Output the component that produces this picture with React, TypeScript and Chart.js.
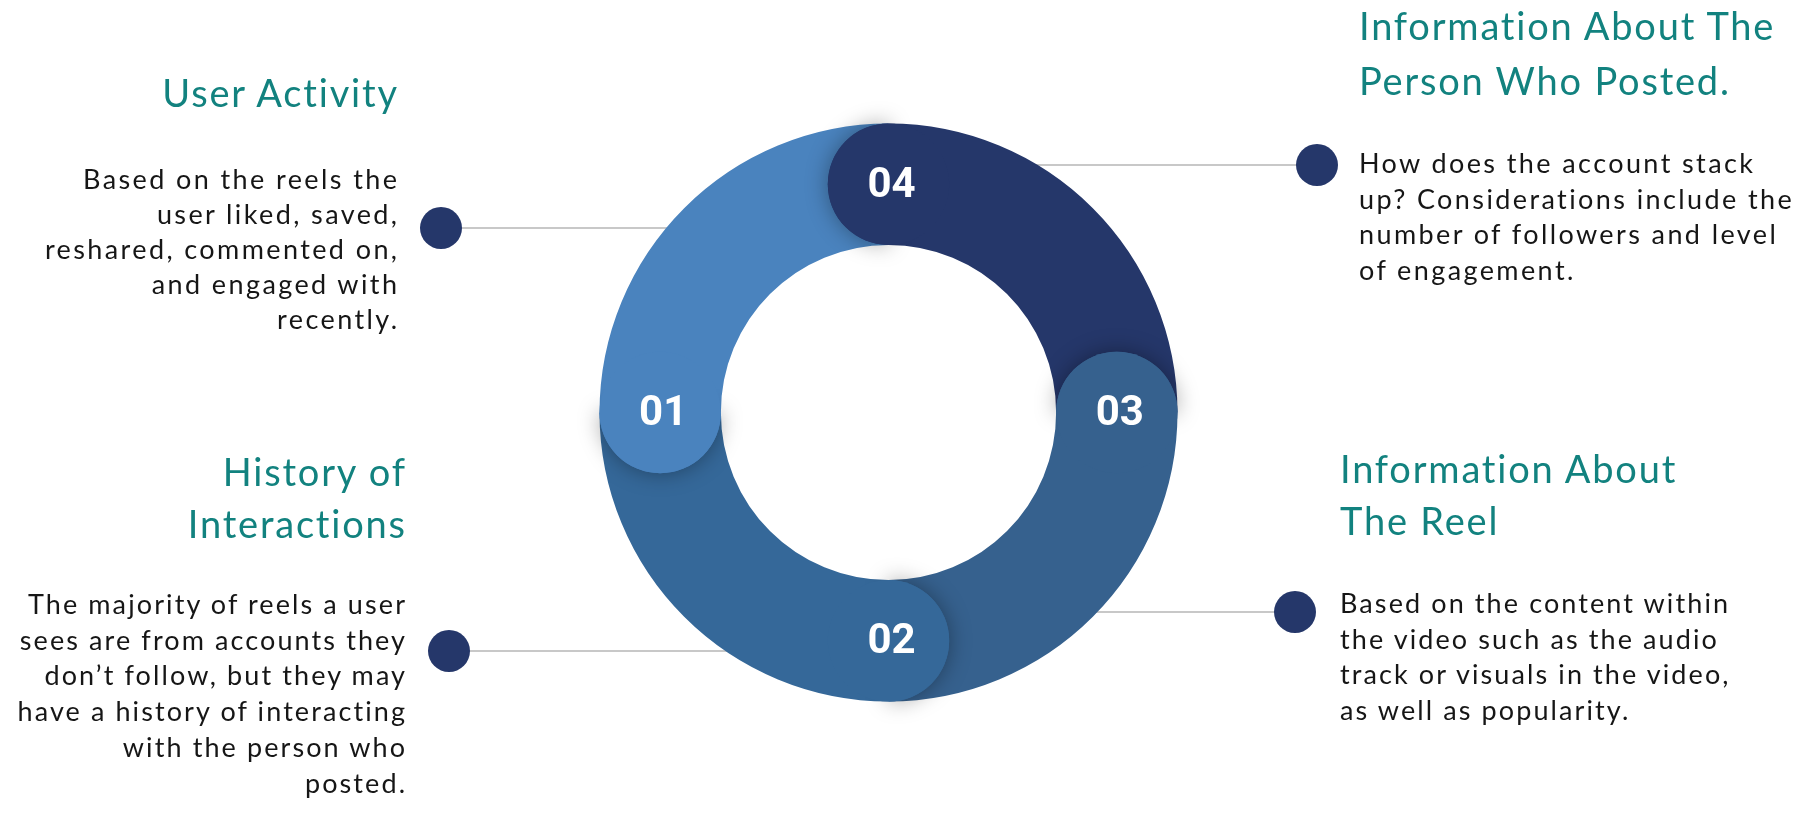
import React, { useEffect, useRef } from "react";
import { Chart, registerables } from "chart.js";

Chart.register(...registerables);

// Segments, listed clockwise starting at 9 o'clock
const segmentLabels = ["01", "04", "03", "02"];
const segmentValues = [25, 25, 25, 25];
const segmentColors = ["#4A83BE", "#25376A", "#36618E", "#356899"];

const userActivityTitle = ["User Activity"];
const userActivityText = [
  "Based on the reels the",
  "user liked, saved,",
  "reshared, commented on,",
  "and engaged with",
  "recently.",
];
const historyTitle = ["History of", "Interactions"];
const historyText = [
  "The majority of reels a user",
  "sees are from accounts they",
  "don\u2019t follow, but they may",
  "have a history of interacting",
  "with the person who",
  "posted.",
];
const personTitle = ["Information About The", "Person Who Posted."];
const personText = [
  "How does the account stack",
  "up? Considerations include the",
  "number of followers and level",
  "of engagement.",
];
const reelTitle = ["Information About", "The Reel"];
const reelText = [
  "Based on the content within",
  "the video such as the audio",
  "track or visuals in the video,",
  "as well as popularity.",
];

const W = 1806;
const H = 814;
const TEAL = "#12827F";
const NAVY = "#25376A";
const TEXT = "#161616";
const FONT = "Lato, 'Open Sans', sans-serif";

// connector dots (layout)
const dots = [
  { x: 441, y: 228 },
  { x: 449, y: 651 },
  { x: 1317, y: 165 },
  { x: 1295, y: 612 },
];

type BlockProps = {
  lines: string[];
  top: number;
  edge: number;
  align: "left" | "right";
  size: number;
  lh: number;
  color: string;
  ls: number;
};

function Block({ lines, top, edge, align, size, lh, color, ls }: BlockProps) {
  const style: React.CSSProperties = {
    position: "absolute",
    top,
    fontFamily: FONT,
    fontSize: size,
    lineHeight: lh + "px",
    color,
    letterSpacing: ls + "px",
    whiteSpace: "pre",
    textAlign: align,
  };
  if (align === "right") style.right = W - edge - ls;
  else style.left = edge;
  return (
    <div style={style}>
      {lines.map((l, i) => (
        <div key={i}>{l}</div>
      ))}
    </div>
  );
}

const capPlugin = {
  id: "caps",
  beforeDatasetsDraw(chart: any) {
    const ctx = chart.ctx as CanvasRenderingContext2D;
    const arc = chart.getDatasetMeta(0).data[0];
    if (!arc) return;
    const { x: cx } = arc.getProps(["x"], true);
    ctx.save();
    ctx.strokeStyle = "#C8C8C8";
    ctx.lineWidth = 2;
    dots.forEach((d) => {
      ctx.beginPath();
      ctx.moveTo(d.x, d.y);
      ctx.lineTo(cx, d.y);
      ctx.stroke();
    });
    ctx.restore();
  },
  afterDatasetsDraw(chart: any) {
    const ctx = chart.ctx as CanvasRenderingContext2D;
    const meta = chart.getDatasetMeta(0);
    const colors = chart.data.datasets[0].backgroundColor as string[];
    const labels = chart.data.labels as string[];
    meta.data.forEach((el: any, i: number) => {
      const p = el.getProps(["x", "y", "startAngle", "innerRadius", "outerRadius"], true);
      const mid = (p.innerRadius + p.outerRadius) / 2;
      const r = (p.outerRadius - p.innerRadius) / 2;
      const th = p.startAngle;
      const px = p.x + Math.cos(th) * mid;
      const py = p.y + Math.sin(th) * mid;
      // shadowed backward half-disc
      ctx.save();
      ctx.shadowColor = "rgba(0,0,0,0.36)";
      ctx.shadowBlur = 22;
      ctx.fillStyle = colors[i];
      ctx.beginPath();
      ctx.arc(px, py, r, th - Math.PI, th);
      ctx.closePath();
      ctx.fill();
      ctx.restore();
      // clean full cap
      ctx.save();
      ctx.fillStyle = colors[i];
      ctx.beginPath();
      ctx.arc(px, py, r, 0, Math.PI * 2);
      ctx.fill();
      ctx.restore();
    });
    meta.data.forEach((el: any, i: number) => {
      const p = el.getProps(["x", "y", "startAngle", "innerRadius", "outerRadius"], true);
      const mid = (p.innerRadius + p.outerRadius) / 2;
      const px = p.x + Math.cos(p.startAngle) * mid;
      const py = p.y + Math.sin(p.startAngle) * mid;
      ctx.save();
      ctx.fillStyle = "#FFFFFF";
      ctx.font = "bold 42px Roboto";
      ctx.textAlign = "center";
      ctx.textBaseline = "middle";
      ctx.fillText(labels[i], px + 3, py + 2);
      ctx.restore();
    });
  },
  afterDraw(chart: any) {
    const ctx = chart.ctx as CanvasRenderingContext2D;
    ctx.save();
    ctx.fillStyle = NAVY;
    dots.forEach((d) => {
      ctx.beginPath();
      ctx.arc(d.x, d.y, 21, 0, Math.PI * 2);
      ctx.fill();
    });
    ctx.restore();
  },
};

export default function App() {
  const ref = useRef<HTMLCanvasElement | null>(null);
  useEffect(() => {
    if (!ref.current) return;
    const chart = new Chart(ref.current, {
      type: "doughnut",
      data: {
        labels: segmentLabels,
        datasets: [
          {
            data: segmentValues,
            backgroundColor: segmentColors,
            borderWidth: 0,
            hoverBorderWidth: 0,
            hoverOffset: 0,
            offset: 0,
          },
        ],
      },
      options: {
        responsive: false,
        animation: false,
        events: [],
        rotation: -90,
        cutout: "58%",
        layout: { padding: { left: 599.5, right: 628.5, top: 123.5, bottom: 112.5 } },
        plugins: { legend: { display: false }, tooltip: { enabled: false } },
      },
      plugins: [capPlugin],
    });
    return () => chart.destroy();
  }, []);

  const bodySize = 27;
  return (
    <div
      style={{
        position: "fixed",
        left: 0,
        top: 0,
        width: W,
        height: H,
        background: "#fff",
        overflow: "hidden",
      }}
    >
      <canvas ref={ref} width={W} height={H} style={{ position: "absolute", left: 0, top: 0, width: W, height: H }} />
      <Block lines={userActivityTitle} top={66} edge={397} align="right" size={38} lh={52} color={TEAL} ls={1.8} />
      <Block lines={userActivityText} top={161} edge={397} align="right" size={bodySize} lh={35} color={TEXT} ls={2.4} />
      <Block lines={historyTitle} top={445} edge={405} align="right" size={38} lh={52} color={TEAL} ls={1.8} />
      <Block lines={historyText} top={586} edge={405} align="right" size={bodySize} lh={35.7} color={TEXT} ls={2.1} />
      <Block lines={personTitle} top={-2} edge={1359} align="left" size={38} lh={55} color={TEAL} ls={1.8} />
      <Block lines={personText} top={145} edge={1359} align="left" size={bodySize} lh={35.7} color={TEXT} ls={2.4} />
      <Block lines={reelTitle} top={442} edge={1340} align="left" size={38} lh={52} color={TEAL} ls={1.8} />
      <Block lines={reelText} top={585} edge={1340} align="left" size={bodySize} lh={35.7} color={TEXT} ls={2.1} />
    </div>
  );
}
